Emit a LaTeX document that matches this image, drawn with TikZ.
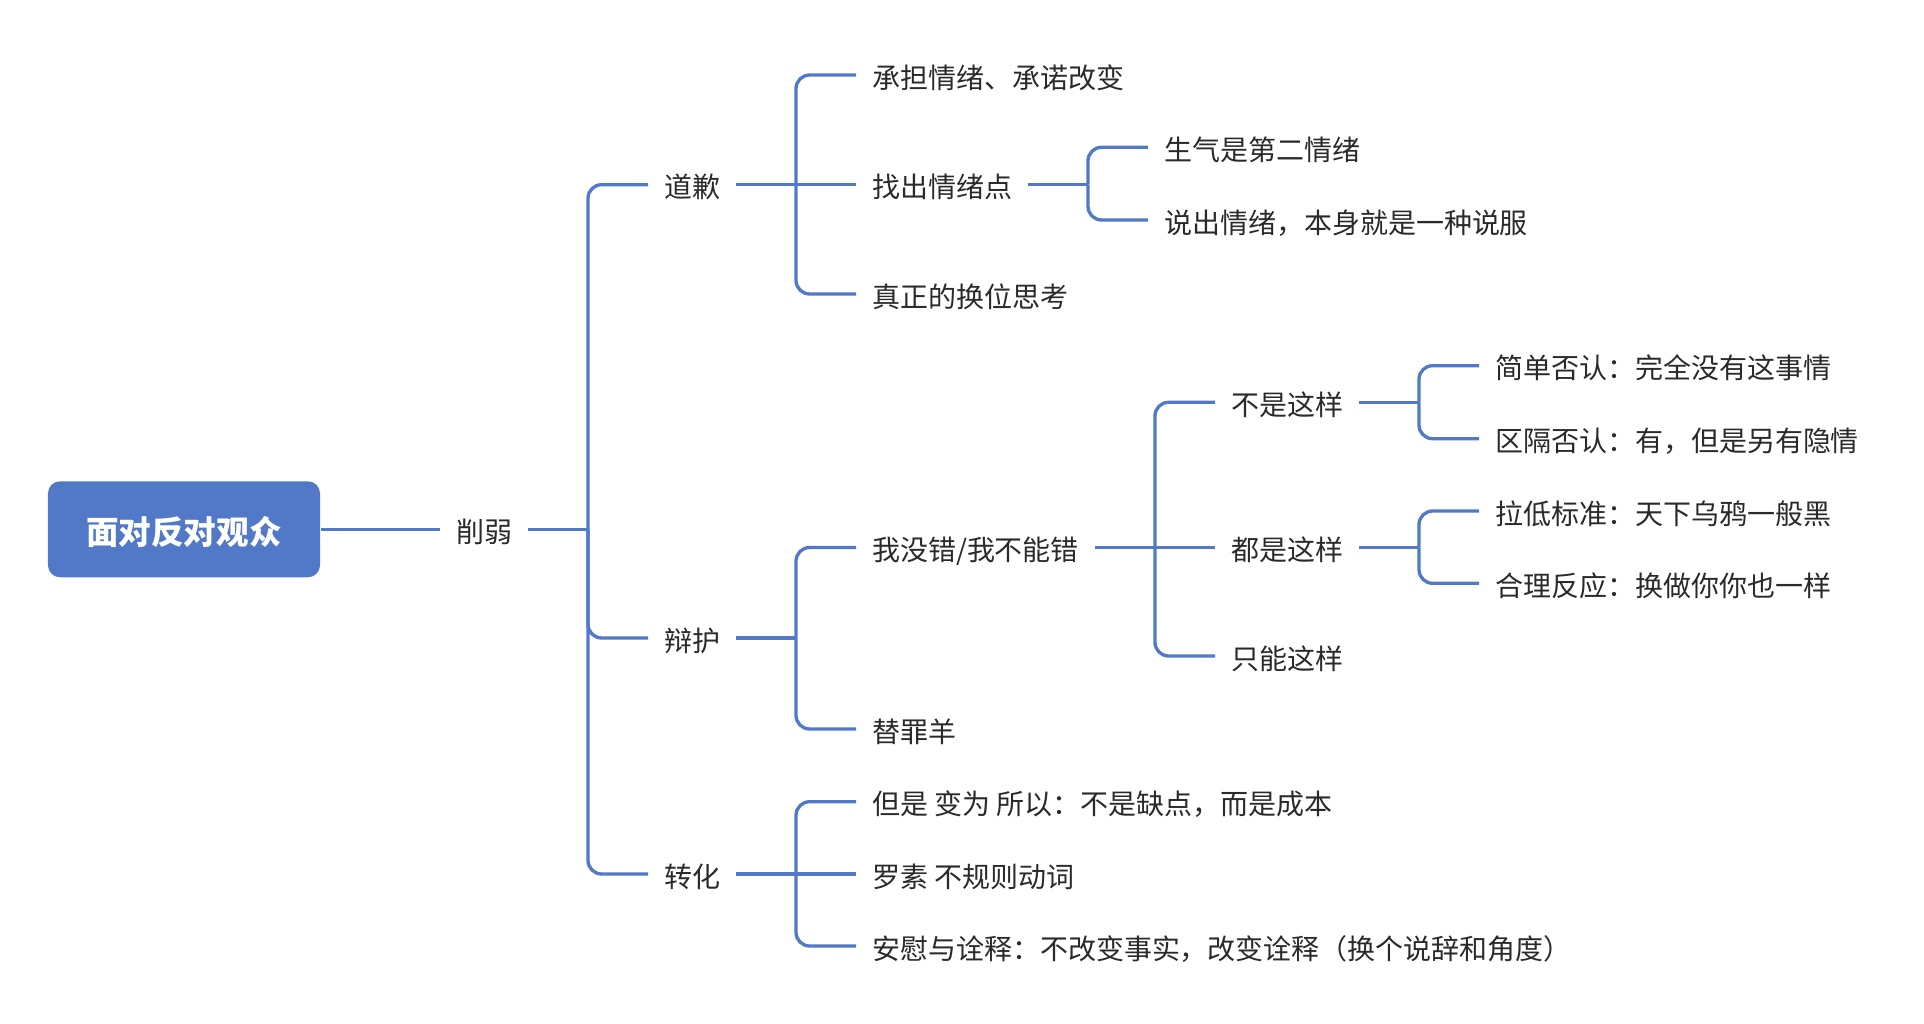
\documentclass[tikz,border=0pt]{standalone}
\usepackage{fontspec}
\newfontfamily\cjk{Noto Sans CJK SC}
\usetikzlibrary{calc}
\definecolor{lineblue}{HTML}{5279C8}
\definecolor{rootblue}{HTML}{5279C7}
\definecolor{txt}{HTML}{2A2A2A}
% stem from parent to a bracket 60 units before the first child
\newcommand\mmstem[3]{\coordinate (#3x) at (#1.east -| #2.west);\coordinate (#3) at ($(#3x)+(-60,0)$);\draw[conn] (#1.east) -- (#3);}
\newcommand\mmtwig[2]{\draw[conn] (#1) |- (#2.west);}
\newcommand\mmmid[2]{\draw[conn] (#1) -- (#2.west);}
\begin{document}
\begin{tikzpicture}[x=0.40541pt,y=-0.40541pt,
  conn/.style={draw=lineblue, line width=1.35pt, rounded corners=5.5pt},
  lbl/.style={anchor=west, inner xsep=6.3pt, inner ysep=0pt, text height=11.5pt, text depth=0.9pt,
    font=\cjk\fontsize{11.35pt}{13pt}\selectfont, text=txt},
  rootbox/.style={fill=rootblue, rounded corners=4.9pt, minimum width=110.3pt, minimum height=38.9pt,
    inner sep=0pt, text height=13pt, text depth=0.6pt, text=white,
    font=\cjk\bfseries\fontsize{13.2pt}{15pt}\selectfont}]
\useasboundingbox (0,0) rectangle (1924,1024);
% nodes
\node[rootbox] (root) at (184,529.3) {面对反对观众};
\node[lbl] (xr) at (440,529.3) {削弱};
\node[lbl] (dq) at (648,184.7) {道歉};
\node[lbl] (bh) at (648,638) {辩护};
\node[lbl] (zh) at (648,874) {转化};
\node[lbl] (dq1) at (856,75) {承担情绪、承诺改变};
\node[lbl] (dq2) at (856,184.7) {找出情绪点};
\node[lbl] (dq3) at (856,294) {真正的换位思考};
\node[lbl] (qx1) at (1148,147.3) {生气是第二情绪};
\node[lbl] (qx2) at (1148,220) {说出情绪，本身就是一种说服};
\node[lbl] (bh1) at (856,547.5) {我没错/我不能错};
\node[lbl] (bh2) at (856,729) {替罪羊};
\node[lbl] (mc1) at (1215,402.3) {不是这样};
\node[lbl] (mc2) at (1215,547.5) {都是这样};
\node[lbl] (mc3) at (1215,656) {只能这样};
\node[lbl] (bs1) at (1479,365.7) {简单否认：完全没有这事情};
\node[lbl] (bs2) at (1479,438.7) {区隔否认：有，但是另有隐情};
\node[lbl] (ds1) at (1479,511) {拉低标准：天下乌鸦一般黑};
\node[lbl] (ds2) at (1479,583.3) {合理反应：换做你你也一样};
\node[lbl] (zh1) at (856,801.7) {但是 变为 所以：不是缺点，而是成本};
\node[lbl] (zh2) at (856,874) {罗素 不规则动词};
\node[lbl] (zh3) at (856,946) {安慰与诠释：不改变事实，改变诠释（换个说辞和角度）};
% connectors
\draw[conn] (root.east) -- (xr.west);
\mmstem{xr}{dq}{k0}
\mmtwig{k0}{dq}\mmtwig{k0}{bh}\mmtwig{k0}{zh}
\mmstem{dq}{dq1}{k1}
\mmtwig{k1}{dq1}\mmmid{k1}{dq2}\mmtwig{k1}{dq3}
\mmstem{dq2}{qx1}{k2}
\mmtwig{k2}{qx1}\mmtwig{k2}{qx2}
\mmstem{bh}{bh1}{k3}
\mmtwig{k3}{bh1}\mmtwig{k3}{bh2}
\mmstem{bh1}{mc1}{k4}
\mmtwig{k4}{mc1}\mmmid{k4}{mc2}\mmtwig{k4}{mc3}
\mmstem{mc1}{bs1}{k5}
\mmtwig{k5}{bs1}\mmtwig{k5}{bs2}
\mmstem{mc2}{ds1}{k6}
\mmtwig{k6}{ds1}\mmtwig{k6}{ds2}
\mmstem{zh}{zh1}{k7}
\mmtwig{k7}{zh1}\mmmid{k7}{zh2}\mmtwig{k7}{zh3}
\end{tikzpicture}
\end{document}
